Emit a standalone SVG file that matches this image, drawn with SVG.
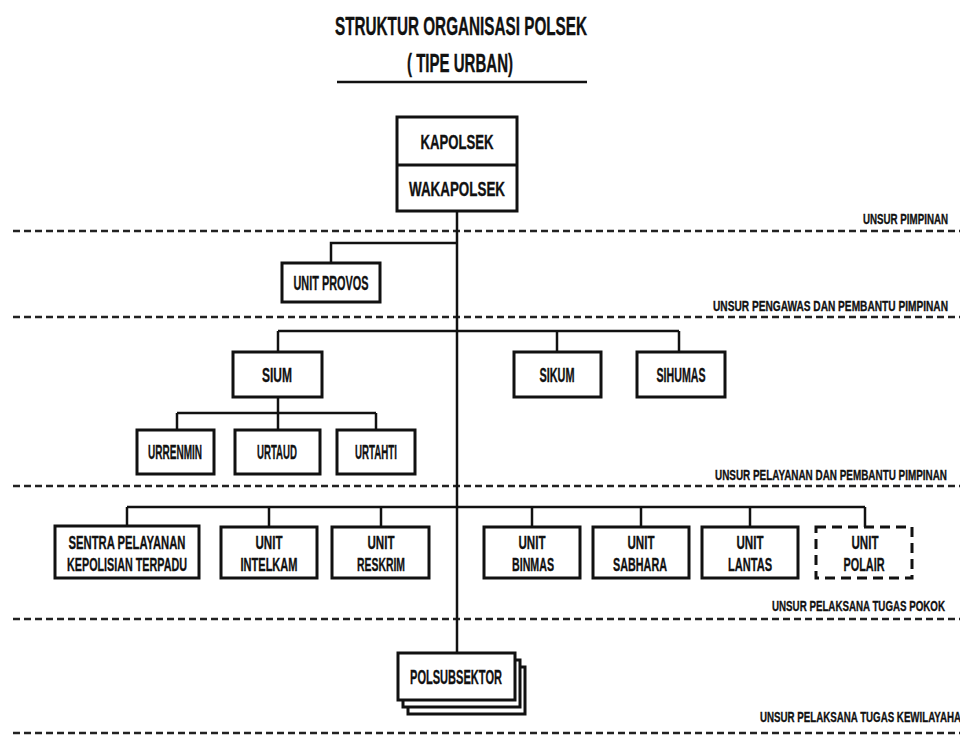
<svg xmlns="http://www.w3.org/2000/svg" width="960" height="737" viewBox="0 0 960 737">
<style>
text{font-family:"Liberation Sans","Arial",sans-serif;font-weight:bold;fill:#111;stroke:#111;stroke-width:0.35;}
.t{font-size:20px;text-anchor:middle;}
.t2{font-size:19px;text-anchor:middle;}
.s{font-size:15px;text-anchor:end;}
.title{font-size:25px;text-anchor:middle;}
.box{fill:#fff;stroke:#111;stroke-width:3;}
.dbox{fill:#fff;stroke:#111;stroke-width:3;stroke-dasharray:10 6;}
.sep{stroke:#222;stroke-width:2.5;stroke-dasharray:7 4;fill:none;}
.c{stroke:#111;stroke-width:2.5;fill:none;}
</style>
<rect width="960" height="737" fill="#fff"/>
<g id="title">
<text class="title" x="461" y="35" textLength="252" lengthAdjust="spacingAndGlyphs">STRUKTUR ORGANISASI POLSEK</text>
<text class="title" x="460" y="72" textLength="106" lengthAdjust="spacingAndGlyphs">( TIPE URBAN)</text>
<line x1="337" y1="82" x2="587" y2="82" stroke="#111" stroke-width="2.5"/>
</g>
<g id="separators">
<line class="sep" x1="13" y1="231" x2="960" y2="231"/>
<line class="sep" x1="13" y1="317" x2="960" y2="317"/>
<line class="sep" x1="13" y1="486" x2="960" y2="486"/>
<line class="sep" x1="13" y1="619" x2="960" y2="619"/>
<line class="sep" x1="13" y1="733" x2="960" y2="733" stroke="#bbb" stroke-width="1.5"/>
<text class="s" x="948" y="224" textLength="85" lengthAdjust="spacingAndGlyphs">UNSUR PIMPINAN</text>
<text class="s" x="948" y="311" textLength="235" lengthAdjust="spacingAndGlyphs">UNSUR  PENGAWAS DAN PEMBANTU PIMPINAN</text>
<text class="s" x="947" y="480" textLength="232" lengthAdjust="spacingAndGlyphs">UNSUR PELAYANAN DAN PEMBANTU PIMPINAN</text>
<text class="s" x="945" y="611" textLength="173" lengthAdjust="spacingAndGlyphs">UNSUR PELAKSANA TUGAS POKOK</text>
<text font-size="15" x="760" y="722" textLength="208" lengthAdjust="spacingAndGlyphs">UNSUR PELAKSANA TUGAS  KEWILAYAHAN</text>
</g>
<g id="connectors">
<line class="c" x1="457" y1="211" x2="457" y2="653"/>
<polyline class="c" points="457,243 331,243 331,263"/>
<line class="c" x1="278" y1="331" x2="679" y2="331"/>
<line class="c" x1="278" y1="331" x2="278" y2="352"/>
<line class="c" x1="557" y1="331" x2="557" y2="352"/>
<line class="c" x1="679" y1="331" x2="679" y2="352"/>
<line class="c" x1="278" y1="397" x2="278" y2="430"/>
<line class="c" x1="177" y1="413" x2="376" y2="413"/>
<line class="c" x1="177" y1="413" x2="177" y2="430"/>
<line class="c" x1="376" y1="413" x2="376" y2="430"/>
<line class="c" x1="127" y1="507" x2="865" y2="507"/>
<line class="c" x1="127" y1="507" x2="127" y2="526"/>
<line class="c" x1="269" y1="507" x2="269" y2="527"/>
<line class="c" x1="381" y1="507" x2="381" y2="527"/>
<line class="c" x1="532" y1="507" x2="532" y2="527"/>
<line class="c" x1="641" y1="507" x2="641" y2="527"/>
<line class="c" x1="750" y1="507" x2="750" y2="527"/>
<line class="c" x1="865" y1="507" x2="865" y2="527"/>
</g>
<g id="kapolsek">
<rect class="box" x="397" y="117" width="120" height="94"/>
<line x1="397" y1="165" x2="517" y2="165" stroke="#111" stroke-width="3"/>
<text class="t" x="457" y="149" textLength="73" lengthAdjust="spacingAndGlyphs">KAPOLSEK</text>
<text class="t" x="457" y="196" textLength="96" lengthAdjust="spacingAndGlyphs">WAKAPOLSEK</text>
</g>
<g id="unit-provos">
<rect class="box" x="282" y="263" width="98" height="39" stroke-width="3.5"/>
<text class="t" x="331" y="290" textLength="75" lengthAdjust="spacingAndGlyphs">UNIT PROVOS</text>
</g>
<g id="sium">
<rect class="box" x="233" y="352" width="89" height="45"/>
<text class="t" x="277" y="382" textLength="30" lengthAdjust="spacingAndGlyphs">SIUM</text>
</g>
<g id="sikum">
<rect class="box" x="514" y="352" width="87" height="45"/>
<text class="t" x="557" y="382" textLength="35" lengthAdjust="spacingAndGlyphs">SIKUM</text>
</g>
<g id="sihumas">
<rect class="box" x="637" y="352" width="88" height="45"/>
<text class="t" x="681" y="382" textLength="49" lengthAdjust="spacingAndGlyphs">SIHUMAS</text>
</g>
<g id="urrenmin">
<rect class="box" x="137" y="430" width="77" height="44"/>
<text class="t" x="175" y="459" textLength="54" lengthAdjust="spacingAndGlyphs">URRENMIN</text>
</g>
<g id="urtaud">
<rect class="box" x="235" y="430" width="85" height="44"/>
<text class="t" x="277" y="459" textLength="40" lengthAdjust="spacingAndGlyphs">URTAUD</text>
</g>
<g id="urtahti">
<rect class="box" x="337" y="430" width="78" height="44"/>
<text class="t" x="376" y="459" textLength="42" lengthAdjust="spacingAndGlyphs">URTAHTI</text>
</g>
<g id="sentra">
<rect class="box" x="55" y="526" width="144" height="52"/>
<text class="t2" x="127" y="549" textLength="117" lengthAdjust="spacingAndGlyphs">SENTRA PELAYANAN</text>
<text class="t2" x="127" y="571" textLength="120" lengthAdjust="spacingAndGlyphs">KEPOLISIAN TERPADU</text>
</g>
<g id="intelkam">
<rect class="box" x="221" y="527" width="96" height="51"/>
<text class="t2" x="269" y="549" textLength="27" lengthAdjust="spacingAndGlyphs">UNIT</text>
<text class="t2" x="269" y="571" textLength="57" lengthAdjust="spacingAndGlyphs">INTELKAM</text>
</g>
<g id="reskrim">
<rect class="box" x="332" y="527" width="97" height="51"/>
<text class="t2" x="381" y="549" textLength="27" lengthAdjust="spacingAndGlyphs">UNIT</text>
<text class="t2" x="381" y="571" textLength="48" lengthAdjust="spacingAndGlyphs">RESKRIM</text>
</g>
<g id="binmas">
<rect class="box" x="484" y="527" width="96" height="51"/>
<text class="t2" x="532" y="549" textLength="27" lengthAdjust="spacingAndGlyphs">UNIT</text>
<text class="t2" x="533" y="571" textLength="42" lengthAdjust="spacingAndGlyphs">BINMAS</text>
</g>
<g id="sabhara">
<rect class="box" x="593" y="527" width="96" height="51"/>
<text class="t2" x="641" y="549" textLength="27" lengthAdjust="spacingAndGlyphs">UNIT</text>
<text class="t2" x="640" y="571" textLength="54" lengthAdjust="spacingAndGlyphs">SABHARA</text>
</g>
<g id="lantas">
<rect class="box" x="702" y="527" width="96" height="51"/>
<text class="t2" x="750" y="549" textLength="27" lengthAdjust="spacingAndGlyphs">UNIT</text>
<text class="t2" x="750" y="571" textLength="44" lengthAdjust="spacingAndGlyphs">LANTAS</text>
</g>
<g id="polair">
<rect class="dbox" x="816" y="527" width="96" height="51"/>
<text class="t2" x="865" y="549" textLength="27" lengthAdjust="spacingAndGlyphs">UNIT</text>
<text class="t2" x="864" y="571" textLength="41" lengthAdjust="spacingAndGlyphs">POLAIR</text>
</g>
<g id="polsubsektor">
<rect class="box" x="408" y="667" width="117" height="47" stroke-width="2.5"/>
<rect class="box" x="403" y="660" width="117" height="47" stroke-width="2.5"/>
<rect class="box" x="398" y="653" width="117" height="47"/>
<text class="t" x="456" y="684" textLength="92" lengthAdjust="spacingAndGlyphs">POLSUBSEKTOR</text>
</g>
</svg>
